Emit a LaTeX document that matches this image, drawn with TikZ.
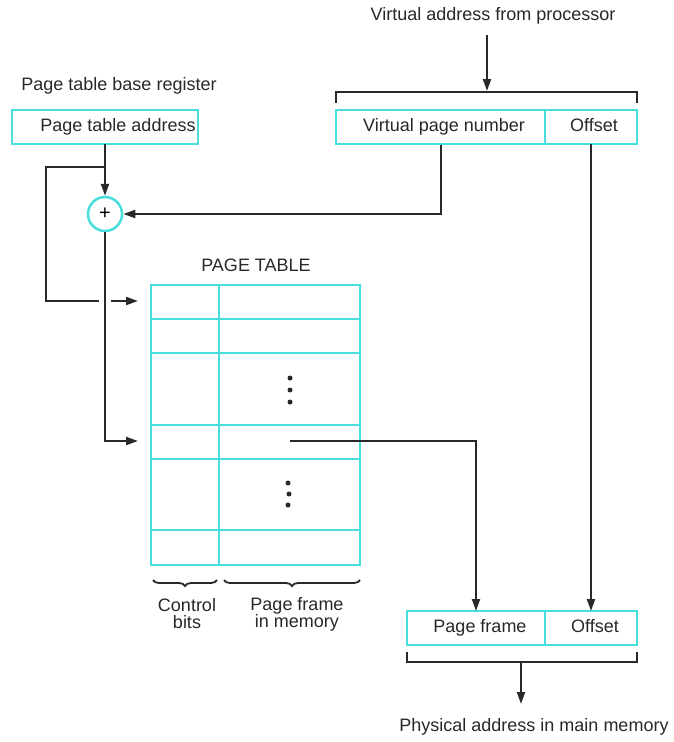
\documentclass[tikz,border=0pt]{standalone}
\usepackage{fontspec}
\setmainfont{Liberation Sans}
\usetikzlibrary{arrows.meta,decorations.pathreplacing}
\definecolor{tblcyan}{RGB}{72,222,222}
\definecolor{ink}{RGB}{40,40,40}
\begin{document}
\begin{tikzpicture}[x=1pt,y=-1pt,
  font=\fontsize{18}{17}\selectfont,
  cyanline/.style={draw=tblcyan, line width=2.5pt},
  wire/.style={draw=ink, line width=2pt},
  arr/.style={wire, -{Triangle[length=12pt,width=8pt]}},
  field/.style={cyanline, minimum height=34pt, inner sep=0pt, outer sep=0pt, anchor=north west},
  lbl/.style={inner sep=0pt, text=ink, text height=13pt, text depth=4pt},
  lbl2/.style={inner sep=0pt, text=ink, align=center},
  brc/.style={draw=ink, line width=1.8pt, decorate, decoration={brace, mirror, amplitude=6pt}},
  dot/.style={circle, fill=ink, inner sep=0pt, minimum size=5pt}]
\useasboundingbox (0,0) rectangle (674,742);

% --- virtual address ---
\node[lbl] (vatext) at (493,16) {Virtual address from processor};
\node[field, minimum width=209pt] (vpn) at (336,110) {};
\node[field, minimum width=92pt] (voff) at (545,110) {};
\node[lbl] (vpntext) at (444,127) {Virtual page number};
\node[lbl] (vofftext) at (594,127) {Offset};
\coordinate (vatop) at (487,35);
\coordinate (vabr) at (487,91);
\draw[arr] (vatop) -- (vabr);
\draw[wire] (336,103) -- (336,92) -- (637,92) -- (637,103);

% --- page table base register ---
\node[lbl] (ptbrtext) at (119,86) {Page table base register};
\node[field, minimum width=186pt] (pta) at (12,110) {};
\node[lbl] (ptatext) at (118,127) {Page table address};

% --- adder ---
\node[circle, cyanline, minimum size=34pt, inner sep=0pt, font=\fontsize{20}{20}\selectfont] (add) at (105,214) {\raisebox{-1pt}{+}};

% --- page table ---
\node[lbl] (pttitle) at (256,267) {PAGE TABLE};
\draw[cyanline] (151,285) rectangle (360,565);
\draw[cyanline] (219,285) -- (219,565);
\foreach \yy in {319,353,425,459,530}
  \draw[cyanline] (151,\yy) -- (360,\yy);
\node[dot] (d1) at (290,378) {};
\node[dot] (d2) at (290,390) {};
\node[dot] (d3) at (290,402) {};
\node[dot] (d4) at (288,483) {};
\node[dot] (d5) at (289,494) {};
\node[dot] (d6) at (288,505) {};

% braces under the table
\draw[brc] (153,580) -- (217,580);
\draw[brc] (224,580) -- (360,580);
\node[lbl2] (ctrltext) at (187,614) {Control\\bits};
\node[lbl2] (pfmtext) at (297,614) {Page frame\\in memory};

% --- physical address ---
\node[field, minimum width=138pt] (pf) at (407,611) {};
\node[field, minimum width=92pt] (poff) at (545,611) {};
\node[lbl] (pftext) at (480,628) {Page frame};
\node[lbl] (pofftext) at (595,628) {Offset};
\draw[wire] (407,652) -- (407,662) -- (637,662) -- (637,652);
\coordinate (pabr) at (521,662);
\coordinate (paend) at (521,704);
\draw[arr] (pabr) -- (paend);
\node[lbl] (patext) at (534,727) {Physical address in main memory};

% --- connectors ---
\coordinate (split) at (105,167);
\coordinate (hopL) at (99,301);
\coordinate (hopR) at (111,301);
\coordinate (row1) at (138,301);
\coordinate (rowk) at (138,441);
\coordinate (pfsrc) at (290,441);
\coordinate (vpnout) at (441,145);

\draw[arr] (pta.south) -- (add.north);
\draw[wire] (split) -| (46,301) -- (hopL);
\draw[arr] (hopR) -- (row1);
\draw[arr] (add.south) |- (rowk);
\draw[arr] (vpnout) |- (add.east);
\draw[arr] (voff.south) -- (poff.north);
\draw[arr] (pfsrc) -| (pf.north);
\end{tikzpicture}
\end{document}
